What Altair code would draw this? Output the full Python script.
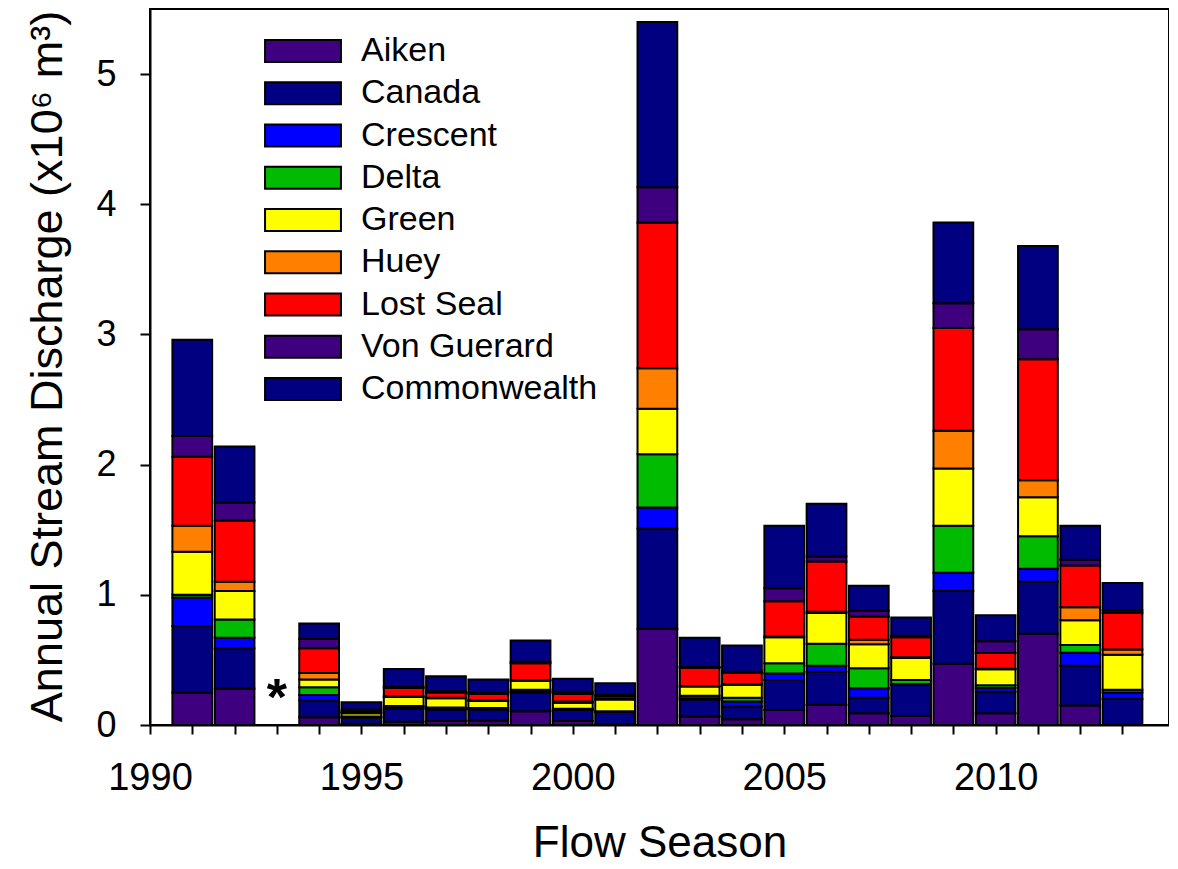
import altair as alt
import pandas as pd

years = [1991, 1992, 1994, 1995, 1996, 1997, 1998, 1999, 2000, 2001, 2002,
         2003, 2004, 2005, 2006, 2007, 2008, 2009, 2010, 2011, 2012, 2013]

sites = ["Aiken", "Canada", "Crescent", "Delta", "Green", "Huey",
         "Lost Seal", "Von Guerard", "Commonwealth"]
colors = ["#3F007F", "#000080", "#0000FF", "#00BB00", "#FFFF00", "#FF8000",
          "#FF0000", "#3F007F", "#000080"]

aiken = [0.25, 0.28, 0.06, 0.01, 0.025, 0.03, 0.035, 0.105, 0.03, 0.005, 0.74,
         0.065, 0.045, 0.115, 0.155, 0.09, 0.07, 0.47, 0.09, 0.70, 0.15, 0.0]
canada = [0.51, 0.31, 0.13, 0.045, 0.10, 0.09, 0.085, 0.145, 0.085, 0.095, 0.77,
          0.13, 0.095, 0.23, 0.255, 0.12, 0.24, 0.56, 0.165, 0.40, 0.305, 0.20]
crescent = [0.22, 0.08, 0.04, 0.005, 0.01, 0.005, 0.005, 0.005, 0.005, 0.003, 0.16,
            0.01, 0.04, 0.05, 0.045, 0.072, 0.005, 0.14, 0.03, 0.10, 0.10, 0.05]
delta = [0.02, 0.14, 0.06, 0.005, 0.01, 0.01, 0.005, 0.015, 0.005, 0.003, 0.41,
         0.02, 0.03, 0.08, 0.17, 0.154, 0.03, 0.36, 0.02, 0.25, 0.06, 0.02]
green = [0.33, 0.22, 0.06, 0.025, 0.07, 0.07, 0.055, 0.07, 0.045, 0.09, 0.35,
         0.07, 0.10, 0.20, 0.235, 0.185, 0.17, 0.44, 0.123, 0.30, 0.19, 0.27]
huey = [0.20, 0.07, 0.05, 0.005, 0.005, 0.005, 0.005, 0.005, 0.01, 0.005, 0.31,
        0.005, 0.005, 0.005, 0.01, 0.033, 0.005, 0.29, 0.005, 0.13, 0.10, 0.04]
lost_seal = [0.53, 0.47, 0.19, 0.01, 0.065, 0.04, 0.05, 0.13, 0.06, 0.02, 1.12,
             0.14, 0.085, 0.27, 0.385, 0.179, 0.155, 0.79, 0.12, 0.93, 0.32, 0.28]
von_guerard = [0.16, 0.14, 0.07, 0.015, 0.01, 0.01, 0.01, 0.01, 0.015, 0.01, 0.27,
               0.005, 0.01, 0.10, 0.04, 0.044, 0.01, 0.19, 0.09, 0.23, 0.045, 0.02]
commonwealth = [0.74, 0.43, 0.12, 0.055, 0.135, 0.115, 0.10, 0.165, 0.10, 0.09, 1.27,
                0.225, 0.20, 0.48, 0.405, 0.192, 0.14, 0.62, 0.20, 0.64, 0.26, 0.21]

series = [aiken, canada, crescent, delta, green, huey, lost_seal, von_guerard, commonwealth]

# missing-season marker
star_year = [1993]
star_y = [0.08]
star_label = ["*"]

rows = []
for i, (site, vals) in enumerate(zip(sites, series)):
    for yr, v in zip(years, vals):
        rows.append({"year": yr, "site": site, "idx": i, "value": v})
df = pd.DataFrame(rows)
df_star = pd.DataFrame({"year": star_year, "y": star_y, "label": star_label})

FONT = "Liberation Sans"
X_TITLE = "Flow Season"
Y_TITLE = "Annual Stream Discharge (x10⁶ m³)"
xscale = alt.Scale(domain=[1990, 2014.1], nice=False, zero=False)
yscale = alt.Scale(domain=[0, 5.5], nice=False, zero=True)

x_axis = alt.Axis(
    values=list(range(1990, 2014)),
    labelExpr="datum.value % 5 == 0 ? '' + datum.value : ''",
    tickSize=9, labelFontSize=38, labelPadding=55, labelBaseline="alphabetic",
    labelFlush=False, labelOverlap=False,
    titleFontSize=44, titleX=509.5, titleY=131, titleBaseline="alphabetic",
    titleAlign="center",
)
y_axis = alt.Axis(
    values=[0, 1, 2, 3, 4, 5], format="d",
    tickSize=10, labelFontSize=36, labelPadding=24, labelFlush=False,
    titleFontSize=45, titleAngle=-90, titleX=-89, titleY=357,
    titleBaseline="alphabetic", titleAlign="center",
)

legend = alt.Legend(
    title=None, orient="none", legendX=136, legendY=25,
    symbolType="M-3.45,-1L3.45,-1L3.45,1L-3.45,1Z", symbolSize=484,
    symbolStrokeColor="black", symbolStrokeWidth=2, symbolOpacity=1,
    labelFont=FONT, labelFontSize=34, labelOffset=41, labelColor="black",
    rowPadding=8.25, padding=0, labelLimit=400,
)

bars = alt.Chart(df).transform_stack(
    stack="value", groupby=["year"], as_=["y0", "y1"],
    sort=[alt.SortField("idx", order="ascending")],
).transform_calculate(
    x0="datum.year - 0.47", x1="datum.year + 0.47"
).mark_bar(stroke="black", strokeWidth=2, opacity=1).encode(
    x=alt.X("x0:Q", scale=xscale, axis=x_axis, title=X_TITLE),
    x2="x1:Q",
    y=alt.Y("y0:Q", scale=yscale, axis=y_axis, title=Y_TITLE),
    y2="y1:Q",
    color=alt.Color("site:N", scale=alt.Scale(domain=sites, range=colors),
                    legend=legend),
)

star = alt.Chart(df_star).mark_text(
    font=FONT, fontSize=52, fontWeight="bold", baseline="alphabetic",
    align="center", color="black",
).encode(
    x=alt.X("year:Q", scale=xscale, axis=x_axis, title=X_TITLE),
    y=alt.Y("y:Q", scale=yscale, axis=y_axis, title=Y_TITLE),
    text="label:N",
)

chart = alt.layer(bars, star).properties(
    width=1019, height=716,
    autosize=alt.AutoSizeParams(type="none"),
    padding={"left": 142, "top": 1, "right": 0, "bottom": 143},
).configure_view(
    stroke="black", strokeWidth=2,
).configure_axis(
    domainColor="black", domainWidth=2, tickColor="black", tickWidth=2,
    labelFont=FONT, titleFont=FONT, labelColor="black", titleColor="black",
    titleFontWeight="normal", grid=False,
)

chart.save("out.html", embed_options={"renderer": "svg", "actions": False})
